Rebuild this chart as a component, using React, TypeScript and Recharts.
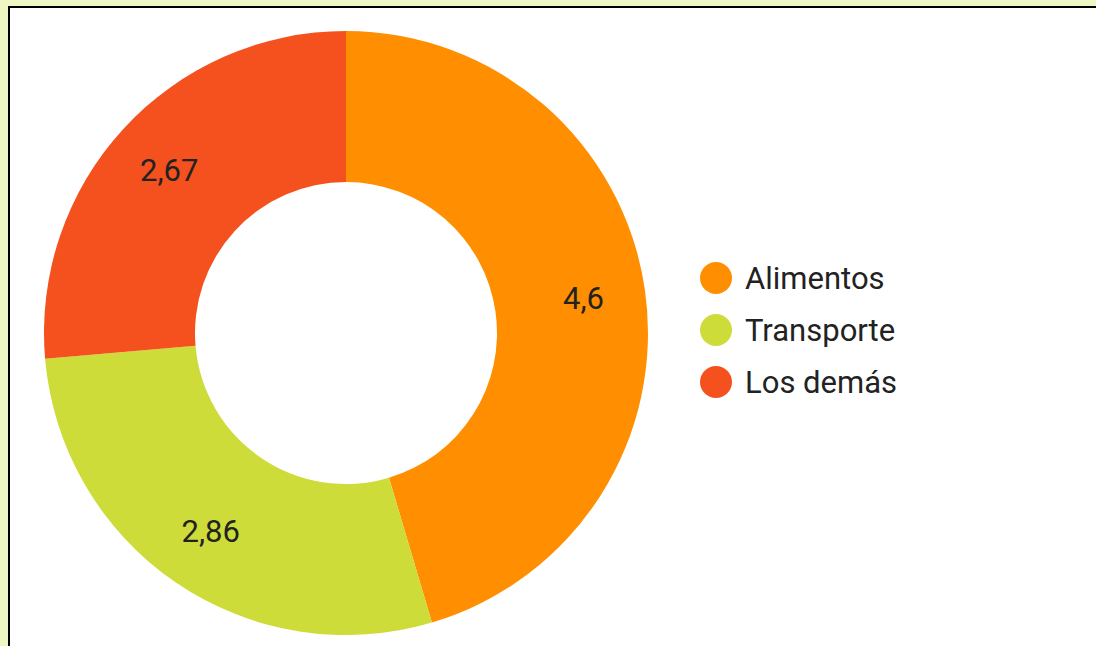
import React from "react";
import { PieChart, Pie, Cell, Legend } from "recharts";

const categories = ["Alimentos", "Transporte", "Los demás"];
const values = [4.6, 2.86, 2.67];
const colors = ["#ff8f00", "#cddc39", "#f4511e"];

const data = categories.map((name, i) => ({ name, value: values[i] }));

const RAD = Math.PI / 180;

const renderLabel = (props: any) => {
  const { cx, cy, midAngle, value } = props;
  const r = 240;
  const x = cx + r * Math.cos(-midAngle * RAD);
  const y = cy + r * Math.sin(-midAngle * RAD);
  return (
    <text
      x={x}
      y={y}
      fill="#222222"
      textAnchor="middle"
      dominantBaseline="central"
      fontFamily="Roboto"
      fontSize={31}
    >
      {String(value).replace(".", ",")}
    </text>
  );
};

const LegendContent = () => (
  <div style={{ fontFamily: "Roboto", fontSize: 31, color: "#222222" }}>
    {categories.map((c, i) => (
      <div
        key={c}
        style={{ display: "flex", alignItems: "center", height: 52 }}
      >
        <span
          style={{
            display: "inline-block",
            width: 32,
            height: 32,
            borderRadius: 16,
            background: colors[i],
            marginRight: 13,
          }}
        />
        <span>{c}</span>
      </div>
    ))}
  </div>
);

export default function App() {
  return (
    <div
      style={{
        position: "absolute",
        left: 0,
        top: 0,
        width: 1096,
        height: 646,
        background: "#f0f5c4",
        overflow: "hidden",
      }}
    >
      <div
        style={{
          position: "absolute",
          left: 8,
          top: 6,
          width: 1110,
          height: 680,
          background: "#ffffff",
          borderTop: "2px solid #000",
          borderLeft: "2px solid #000",
        }}
      >
        <PieChart width={1086} height={640}>
          <Pie
            data={data}
            dataKey="value"
            nameKey="name"
            cx={331}
            cy={320}
            innerRadius={151}
            outerRadius={302}
            startAngle={90}
            endAngle={-270}
            stroke="none"
            label={renderLabel}
            labelLine={false}
            isAnimationActive={false}
          >
            {data.map((d, i) => (
              <Cell key={d.name} fill={colors[i]} />
            ))}
          </Pie>
          <Legend
            content={<LegendContent />}
            layout="vertical"
            wrapperStyle={{ position: "absolute", left: 690, top: 244, width: 300 }}
          />
        </PieChart>
      </div>
    </div>
  );
}
